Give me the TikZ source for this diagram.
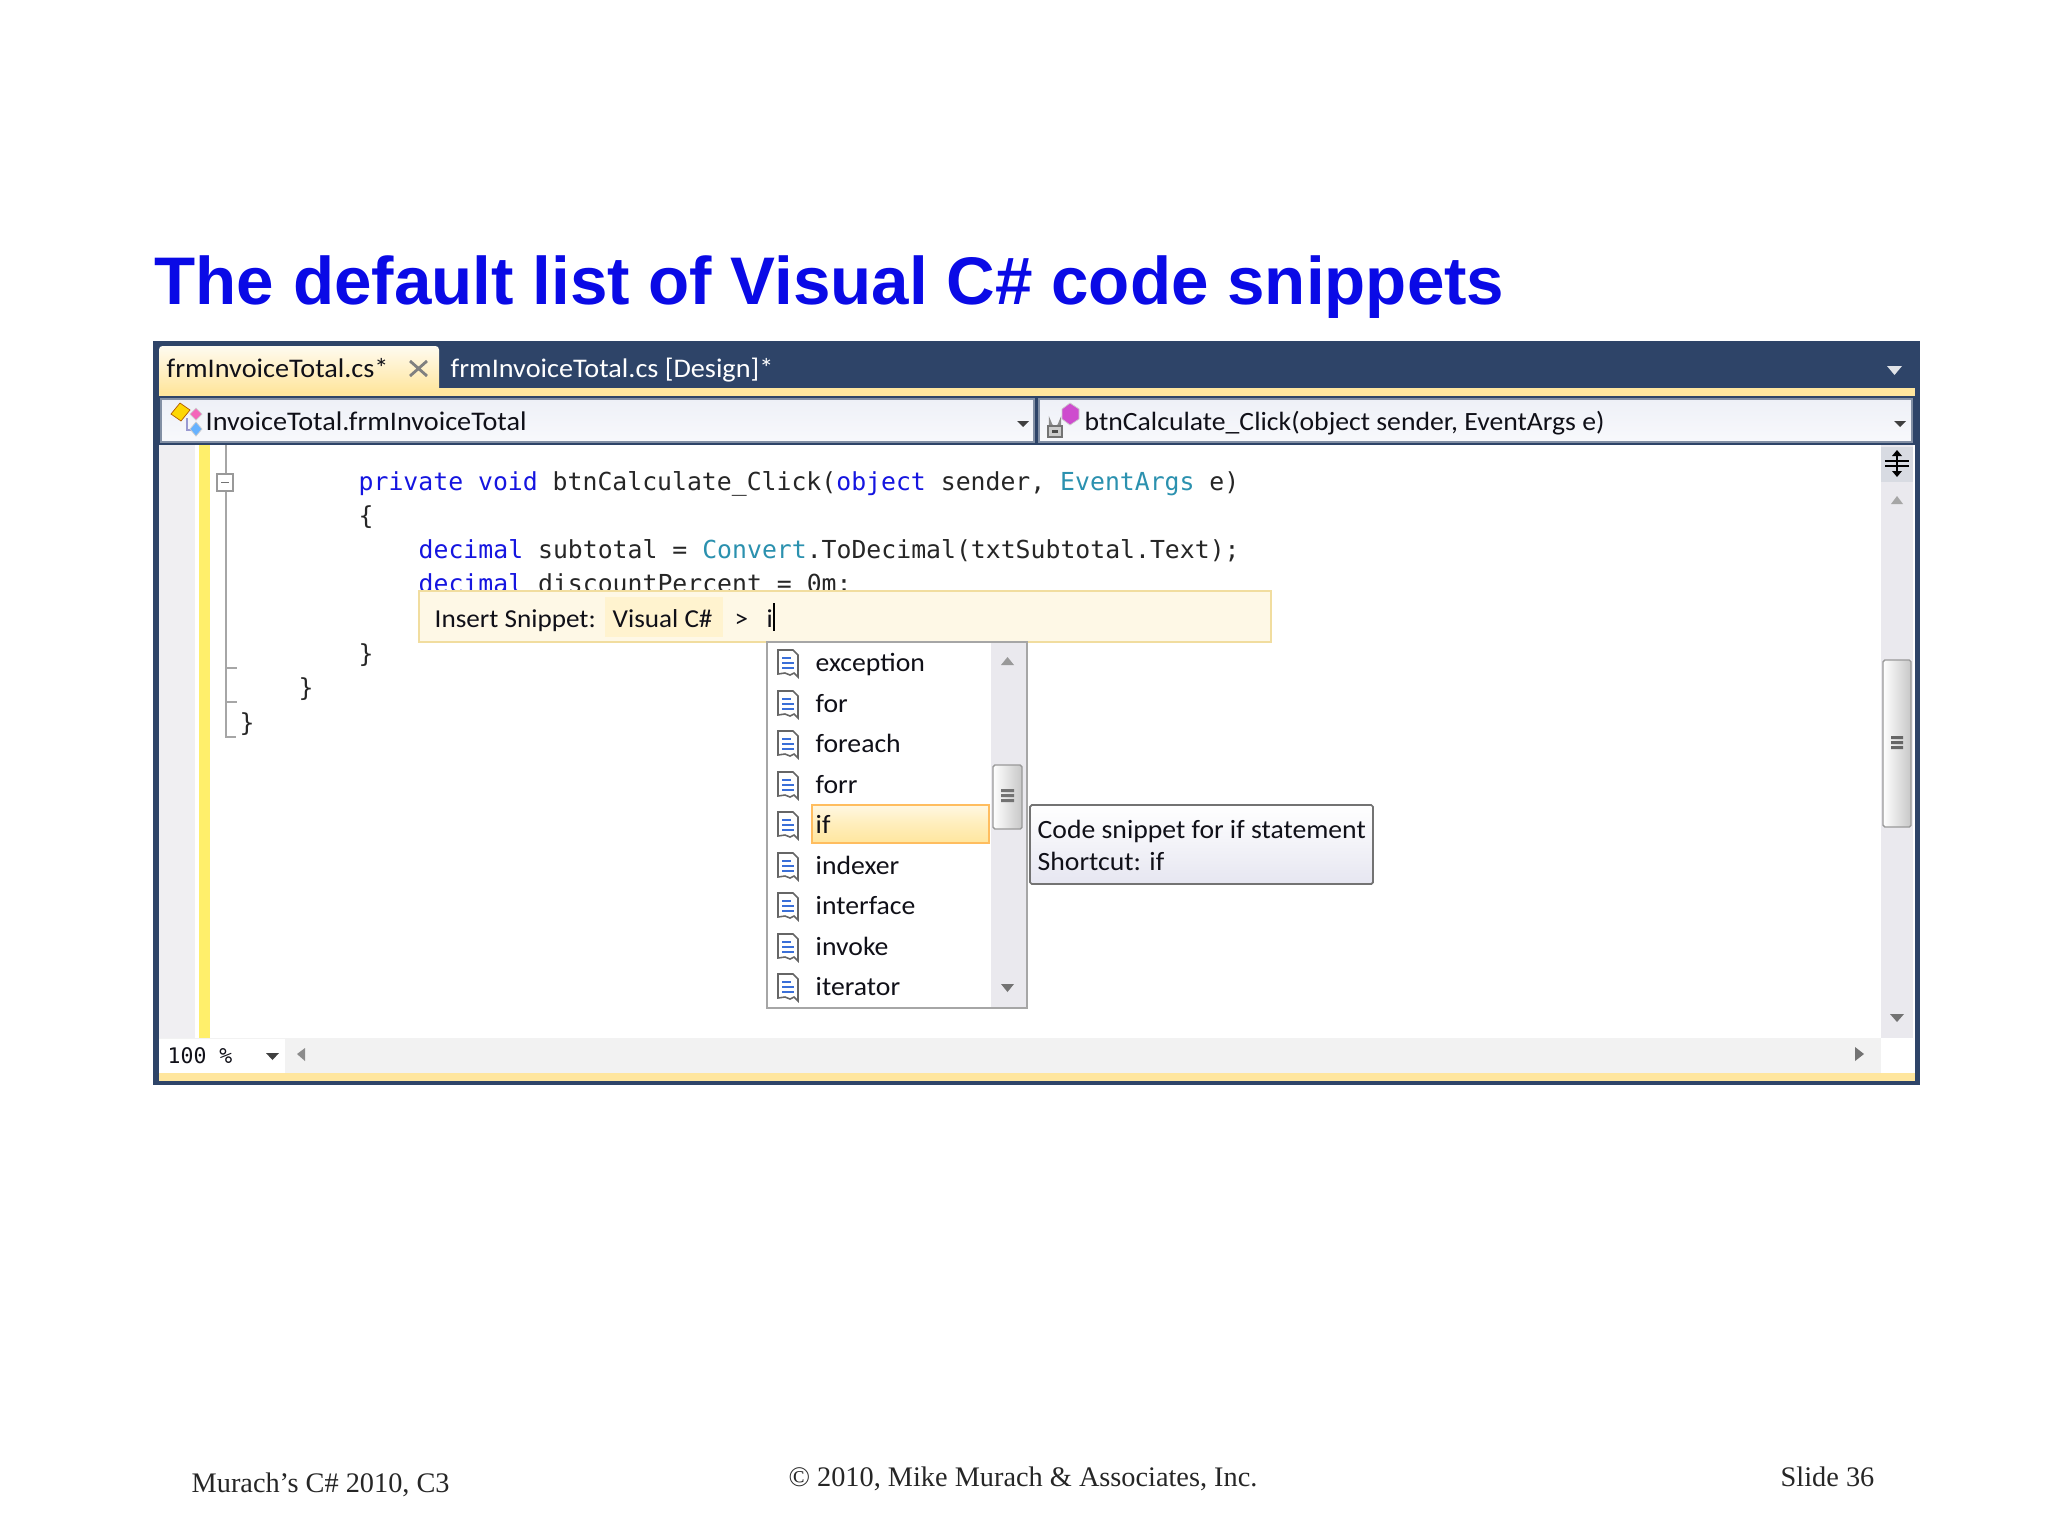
\documentclass[tikz,border=0pt]{standalone}
\usepackage{fontspec}
\setmainfont{Liberation Serif}
\newfontfamily\titlefont{Liberation Sans}
\newfontfamily\uifont[FakeStretch=1.05]{Carlito}
\newfontfamily\codefont{DejaVu Sans Mono}
\definecolor{titleblue}{HTML}{0A0AE6}
\definecolor{navy}{HTML}{2E4468}
\definecolor{gold}{HTML}{FFE69E}
\definecolor{barline}{HTML}{F1DD9F}
\definecolor{cream}{HTML}{FEF8E6}
\definecolor{langfill}{HTML}{FFF3CF}
\definecolor{marginyellow}{HTML}{FFEF6B}
\definecolor{greystrip}{HTML}{F0EFF2}
\definecolor{scrollgrey}{HTML}{EAE9EE}
\definecolor{kwblue}{HTML}{1515E0}
\definecolor{typeteal}{HTML}{2B91AF}
\definecolor{uitext}{HTML}{101018}
\definecolor{combotop}{HTML}{EEF0F7}
\definecolor{combobot}{HTML}{F8F9FC}
\definecolor{tipbot}{HTML}{E6E6F1}
\definecolor{splitfill}{HTML}{D8DBE2}
\definecolor{snipblue}{HTML}{3A6FD8}
\tikzset{
  uitxt/.style={anchor=base west, inner sep=0pt, text=uitext, font=\uifont\fontsize{7.5}{9}\selectfont},
  tabtxt/.style={uitxt, font=\uifont\fontsize{7.65}{9}\selectfont},
  bartxt/.style={uitxt, font=\uifont\fontsize{7.35}{9}\selectfont},
  codetxt/.style={anchor=base west, inner sep=0pt, text=black!85, font=\codefont\fontsize{7.05}{8.5}\selectfont},
  foottxt/.style={anchor=base west, inner sep=0pt, text=black!85, font=\fontsize{8.05}{10}\selectfont},
  combo/.style={draw=navy!60, line width=0.3pt, top color=combotop, bottom color=combobot},
  thumb/.style={draw=black!40, line width=0.4pt, rounded corners=0.5pt, left color=white, right color=black!22}
}
\def\snipicon(#1,#2){
  \draw[draw=black!60, fill=white, line width=0.45pt] (#1-10, #2-12) -- (#1+5, #2-12) -- (#1+10, #2-7) -- (#1+10, #2+15) -- (#1+6, #2+11) -- (#1+2, #2+13) -- (#1-3, #2+11) -- (#1-10, #2+12) -- cycle;
  \draw[draw=snipblue, line width=0.6pt] (#1-6, #2-4) -- (#1+3, #2-4) (#1-6, #2+1) -- (#1+6, #2+1) (#1-6, #2+6) -- (#1+6, #2+6);
}
\begin{document}
\begin{tikzpicture}[x=0.01cm, y=-0.01cm]
	%%%%% START %%%%%
	\useasboundingbox (0, 0) rectangle (2048, 1536);
	\node[anchor=base west, inner sep=0pt, text=titleblue, font=\titlefont\bfseries\fontsize{19.15}{23}\selectfont] (title) at (154, 304) {The default list of Visual C\# code snippets};

	% window frame
	\fill[navy] (153, 341) rectangle (1920, 1085);
	\fill[gold] (159, 388) rectangle (1915, 396);
	\fill[white] (159, 445) rectangle (1915, 1038);

	% tabs
	\shade[top color=cream!60!white, bottom color=gold, rounded corners=1pt] (159, 346) rectangle (439, 392);
	\node[tabtxt] (tabcode) at (166, 377) {frmInvoiceTotal.cs*};
	\draw[black!50, line width=0.8pt] (410, 361) -- (427, 376) (427, 361) -- (410, 376);
	\node[tabtxt, text=white] (tabdesign) at (450, 377) {frmInvoiceTotal.cs [Design]*};
	\fill[white!85!navy] (1887, 366) -- (1902, 366) -- (1894.5, 375) -- cycle;

	% combo boxes
	\draw[combo] (161, 399) rectangle (1034, 442);
	\draw[combo] (1039, 399) rectangle (1912, 442);
	\draw[black!45!blue!40, line width=0.5pt] (187, 418) -- (187, 430) -- (194, 430);
	\fill[yellow!75!orange, draw=black!30!orange, line width=0.2pt] (180, 403) -- (190, 410) -- (181, 421) -- (171, 414) -- cycle;
	\fill[magenta!60, draw=black!20, line width=0.2pt] (196, 408) -- (202, 414) -- (196, 420) -- (190, 414) -- cycle;
	\fill[blue!50!cyan!60, draw=black!20, line width=0.2pt] (196, 422) -- (202, 429) -- (196, 436) -- (190, 429) -- cycle;
	\node[tabtxt] (classname) at (205, 430) {InvoiceTotal.frmInvoiceTotal};
	\fill[black!75] (1017, 421) -- (1029, 421) -- (1023, 427) -- cycle;
	\fill[violet!55!magenta!70!white, draw=black!20, line width=0.2pt] (1070, 403) -- (1079, 409) -- (1079, 419) -- (1070, 425) -- (1062, 419) -- (1062, 409) -- cycle;
	\draw[black!45, line width=0.7pt] (1050, 426) -- (1050, 422) arc (180:0:5) -- (1060, 426);
	\draw[black!55, fill=black!20, line width=0.3pt] (1048, 426) rectangle (1062, 437);
	\fill[black!70] (1052, 430) rectangle (1058, 433);
	\node[uitxt] (methodname) at (1084, 430) {btnCalculate\_Click(object sender, EventArgs e)};
	\fill[black!75] (1894, 421) -- (1906, 421) -- (1900, 427) -- cycle;

	% left margin
	\fill[greystrip] (159, 445) rectangle (195, 1038);
	\fill[marginyellow] (199, 445) rectangle (210, 1038);
	\draw[black!35, line width=0.3pt] (226, 445) -- (226, 474);
	\draw[black!35, line width=0.3pt] (226, 492) -- (226, 737) -- (236, 737);
	\draw[black!35, line width=0.3pt] (226, 668) -- (237, 668) (226, 702) -- (237, 702);
	\draw[black!40, fill=white, line width=0.3pt] (217, 474) rectangle (233, 491);
	\draw[black!55, line width=0.4pt] (221, 482.5) -- (229, 482.5);

	% code lines
	\node[codetxt] (line1) at (358, 490) {{\color{kwblue}private void} btnCalculate\_Click({\color{kwblue}object} sender, {\color{typeteal}EventArgs} e)};
	\node[codetxt] (line2) at (358, 524) {\{};
	\node[codetxt] (line3) at (418, 558) {{\color{kwblue}decimal} subtotal = {\color{typeteal}Convert}.ToDecimal(txtSubtotal.Text);};
	\node[codetxt] (line4) at (418, 592) {{\color{kwblue}decimal} discountPercent = 0m;};
	\node[codetxt] (line6) at (358, 662) {\}};
	\node[codetxt] (line7) at (298, 696.5) {\}};
	\node[codetxt] (line8) at (239, 731) {\}};

	% insert snippet bar
	\draw[draw=barline, fill=cream, line width=0.5pt] (419, 591) rectangle (1271, 642);
	\fill[langfill] (605, 597) rectangle (723, 637);
	\node[bartxt] (snippetlabel) at (434, 627) {Insert Snippet:};
	\node[bartxt] (snippetlang) at (612, 627) {Visual C\#};
	\node[bartxt] (snippetsep) at (734, 627) {>};
	\node[bartxt] (snippetinput) at (766, 627) {i};
	\draw[black, line width=0.5pt] (774, 603) -- (774, 631);

	% vertical scrollbar
	\fill[scrollgrey] (1881, 445) rectangle (1913, 1038);
	\fill[splitfill] (1881, 447) rectangle (1913, 482);
	\draw[black, line width=0.4pt] (1885, 461) -- (1909, 461) (1885, 466) -- (1909, 466) (1897, 455) -- (1897, 472);
	\fill[black] (1892, 456) -- (1902, 456) -- (1897, 450) -- cycle;
	\fill[black] (1892, 471) -- (1902, 471) -- (1897, 477) -- cycle;
	\fill[black!35] (1891, 504) -- (1903, 504) -- (1897, 496) -- cycle;
	\draw[thumb] (1883, 660) rectangle (1911, 827);
	\fill[black!60] (1891, 736) rectangle (1903, 739) (1891, 741) rectangle (1903, 744) (1891, 746) rectangle (1903, 749);
	\fill[black!55] (1890, 1014) -- (1904, 1014) -- (1897, 1022) -- cycle;

	% bottom bar
	\fill[black!5] (159, 1038) rectangle (1881, 1073);
	\fill[white] (1881, 1038) rectangle (1915, 1073);
	\fill[white] (159, 1039) rectangle (285, 1073);
	\fill[gold] (159, 1073) rectangle (1915, 1081);
	\node[uitxt, font=\codefont\fontsize{6.1}{7}\selectfont] (zoomlevel) at (167, 1063) {100 \%};
	\fill[black!75] (266, 1053) -- (279, 1053) -- (272.5, 1060) -- cycle;
	\fill[black!45] (305, 1048) -- (297, 1054) -- (305, 1061) -- cycle;
	\fill[black!55] (1855, 1047) -- (1864, 1054) -- (1855, 1061) -- cycle;

	% snippet list
	\draw[draw=black!35, fill=white, line width=0.5pt] (767, 642) rectangle (1027, 1008);
	\fill[scrollgrey] (991, 643) rectangle (1026, 1007);
	\fill[black!40] (1001, 665) -- (1014, 665) -- (1007.5, 657) -- cycle;
	\fill[black!55] (1001, 984) -- (1014, 984) -- (1007.5, 992) -- cycle;
	\draw[thumb] (993, 765) rectangle (1022, 829);
	\fill[black!55] (1001, 789) rectangle (1014, 792) (1001, 794) rectangle (1014, 797) (1001, 799) rectangle (1014, 802);
	\draw[draw=gold!60!orange, top color=white!70!gold, bottom color=gold, middle color=gold!70!white, line width=0.5pt] (812, 805) rectangle (989, 843);

	\snipicon(788,662)
	\node[uitxt] (itemexception) at (815, 671) {exception};
	\snipicon(788,703)
	\node[uitxt] (itemfor) at (815, 712) {for};
	\snipicon(788,743)
	\node[uitxt] (itemforeach) at (815, 752) {foreach};
	\snipicon(788,784)
	\node[uitxt] (itemforr) at (815, 793) {forr};
	\snipicon(788,824)
	\node[uitxt] (itemif) at (815, 833) {if};
	\snipicon(788,865)
	\node[uitxt] (itemindexer) at (815, 874) {indexer};
	\snipicon(788,905)
	\node[uitxt] (iteminterface) at (815, 914) {interface};
	\snipicon(788,946)
	\node[uitxt] (iteminvoke) at (815, 955) {invoke};
	\snipicon(788,986)
	\node[uitxt] (itemiterator) at (815, 995) {iterator};

	% tooltip
	\draw[draw=black!55, top color=white, bottom color=tipbot, rounded corners=0.5pt, line width=0.5pt] (1030, 805) rectangle (1373, 884);
	\node[uitxt] (tipline1) at (1037, 838) {Code snippet for if statement};
	\node[uitxt] (tipline2) at (1037, 870) {Shortcut: if};

	% footer
	\node[foottxt] (footleft) at (191, 1492) {Murach’s C\# 2010, C3};
	\node[foottxt, anchor=base] (footmid) at (1023, 1486) {© 2010, Mike Murach \& Associates, Inc.};
	\node[foottxt] (footright) at (1780, 1486) {Slide 36};
	%%%%% END %%%%%
\end{tikzpicture}
\end{document}
